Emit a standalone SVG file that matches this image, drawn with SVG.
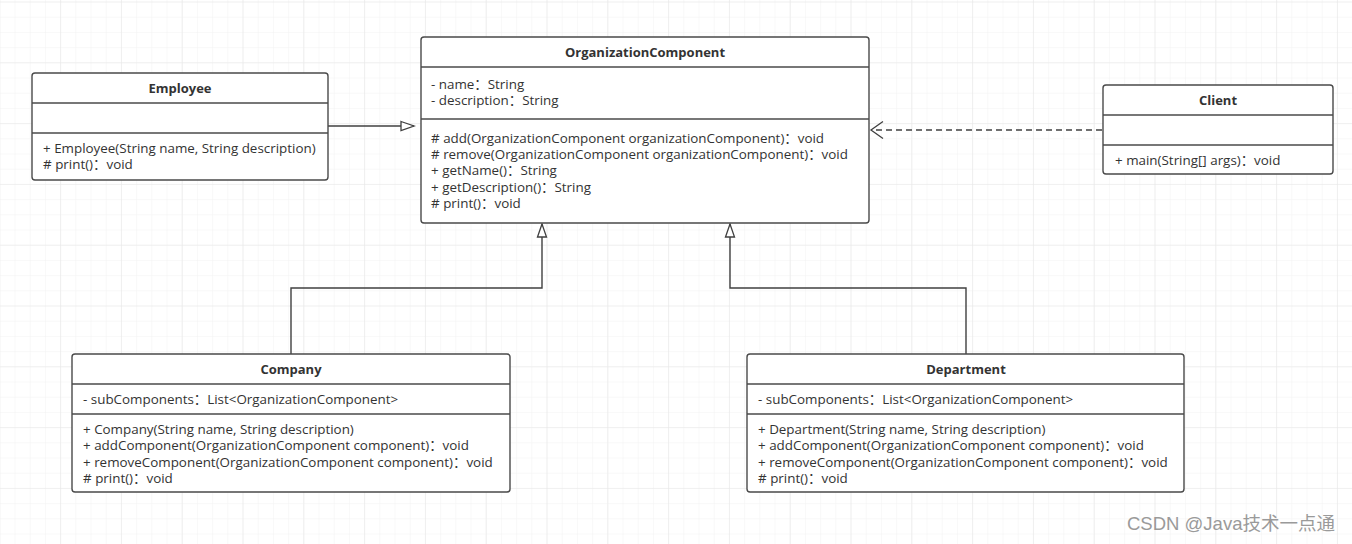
<svg xmlns="http://www.w3.org/2000/svg" width="1352" height="544" viewBox="0 0 1352 544">
<defs>
<pattern id="minor" width="15.2" height="15.2" patternUnits="userSpaceOnUse" x="0.3" y="2.5">
<path d="M15.2 0V15.2M0 15.2H15.2" fill="none" stroke="#f2f2f2" stroke-width="1"/>
</pattern>
<pattern id="major" width="60.8" height="60.8" patternUnits="userSpaceOnUse" x="0.3" y="2.5">
<path d="M60.8 0V60.8M0 60.8H60.8" fill="none" stroke="#e8e8e8" stroke-width="1.2"/>
</pattern>
<marker id="tri" markerWidth="16" markerHeight="12" refX="14" refY="6" orient="auto" markerUnits="userSpaceOnUse">
<path d="M1 1.5L14 6L1 10.5Z" fill="#fff" stroke="#404040" stroke-width="1.3"/>
</marker>
<marker id="open" markerWidth="16" markerHeight="20" refX="13" refY="10" orient="auto" markerUnits="userSpaceOnUse">
<path d="M1 1.5L13 10L1 18.5" fill="none" stroke="#404040" stroke-width="1.3"/>
</marker>
</defs>
<style>
.box{fill:#fff;stroke:#4a4a4a;stroke-width:1.4}
.div{stroke:#4a4a4a;stroke-width:1.4}
.t{font-family:"Open Sans","Noto Sans CJK SC",sans-serif;font-size:13.4px;fill:#333}
.h{font-family:"Open Sans","Noto Sans CJK SC",sans-serif;font-size:13px;font-weight:bold;fill:#333;text-anchor:middle}
.c{fill:none;stroke:#404040;stroke-width:1.4}
</style>
<rect width="1352" height="544" fill="#fff"/>
<rect width="1352" height="544" fill="url(#minor)"/>
<rect width="1352" height="544" fill="url(#major)"/>

<g id="connectors">
<path class="c" d="M328 126H414" marker-end="url(#tri)"/>
<path class="c" d="M1102 130H871" stroke-dasharray="6,4" marker-end="url(#open)"/>
<path class="c" d="M291 354V288H542V224" marker-end="url(#tri)"/>
<path class="c" d="M966 354V288H730V224" marker-end="url(#tri)"/>
</g>

<g id="Employee">
<rect class="box" x="32" y="73" width="296" height="107" rx="3"/>
<line class="div" x1="32" y1="103" x2="328" y2="103"/>
<line class="div" x1="32" y1="133" x2="328" y2="133"/>
<text class="h" x="180" y="93">Employee</text>
<text class="t" x="43" y="152.5">+ Employee(String name, String description)</text>
<text class="t" x="43" y="168.5"># print()：void</text>
</g>

<g id="OrganizationComponent">
<rect class="box" x="421" y="37" width="448" height="186" rx="3"/>
<line class="div" x1="421" y1="67" x2="869" y2="67"/>
<line class="div" x1="421" y1="119" x2="869" y2="119"/>
<text class="h" x="645" y="57">OrganizationComponent</text>
<text class="t" x="431" y="88.5">- name：String</text>
<text class="t" x="431" y="105">- description：String</text>
<text class="t" x="431" y="142.5"># add(OrganizationComponent organizationComponent)：void</text>
<text class="t" x="431" y="158.5"># remove(OrganizationComponent organizationComponent)：void</text>
<text class="t" x="431" y="175">+ getName()：String</text>
<text class="t" x="431" y="191.5">+ getDescription()：String</text>
<text class="t" x="431" y="207.5"># print()：void</text>
</g>

<g id="Client">
<rect class="box" x="1103" y="85" width="230" height="89" rx="3"/>
<line class="div" x1="1103" y1="115" x2="1333" y2="115"/>
<line class="div" x1="1103" y1="145" x2="1333" y2="145"/>
<text class="h" x="1218" y="105">Client</text>
<text class="t" x="1115" y="164.5">+ main(String[] args)：void</text>
</g>

<g id="Company">
<rect class="box" x="72" y="354" width="438" height="138" rx="3"/>
<line class="div" x1="72" y1="384" x2="510" y2="384"/>
<line class="div" x1="72" y1="414" x2="510" y2="414"/>
<text class="h" x="291" y="374">Company</text>
<text class="t" x="83" y="404">- subComponents：List&lt;OrganizationComponent&gt;</text>
<text class="t" x="83" y="433.5">+ Company(String name, String description)</text>
<text class="t" x="83" y="450">+ addComponent(OrganizationComponent component)：void</text>
<text class="t" x="83" y="466.5">+ removeComponent(OrganizationComponent component)：void</text>
<text class="t" x="83" y="482.8"># print()：void</text>
</g>

<g id="Department">
<rect class="box" x="747" y="354" width="437" height="138" rx="3"/>
<line class="div" x1="747" y1="384" x2="1184" y2="384"/>
<line class="div" x1="747" y1="414" x2="1184" y2="414"/>
<text class="h" x="966" y="374">Department</text>
<text class="t" x="758" y="404">- subComponents：List&lt;OrganizationComponent&gt;</text>
<text class="t" x="758" y="433.5">+ Department(String name, String description)</text>
<text class="t" x="758" y="450">+ addComponent(OrganizationComponent component)：void</text>
<text class="t" x="758" y="466.5">+ removeComponent(OrganizationComponent component)：void</text>
<text class="t" x="758" y="482.8"># print()：void</text>
</g>

<text x="1127" y="530" font-family="'Liberation Sans','Noto Sans CJK SC',sans-serif" font-size="18.5" fill="#9a9a9a">CSDN @Java技术一点通</text>
</svg>
